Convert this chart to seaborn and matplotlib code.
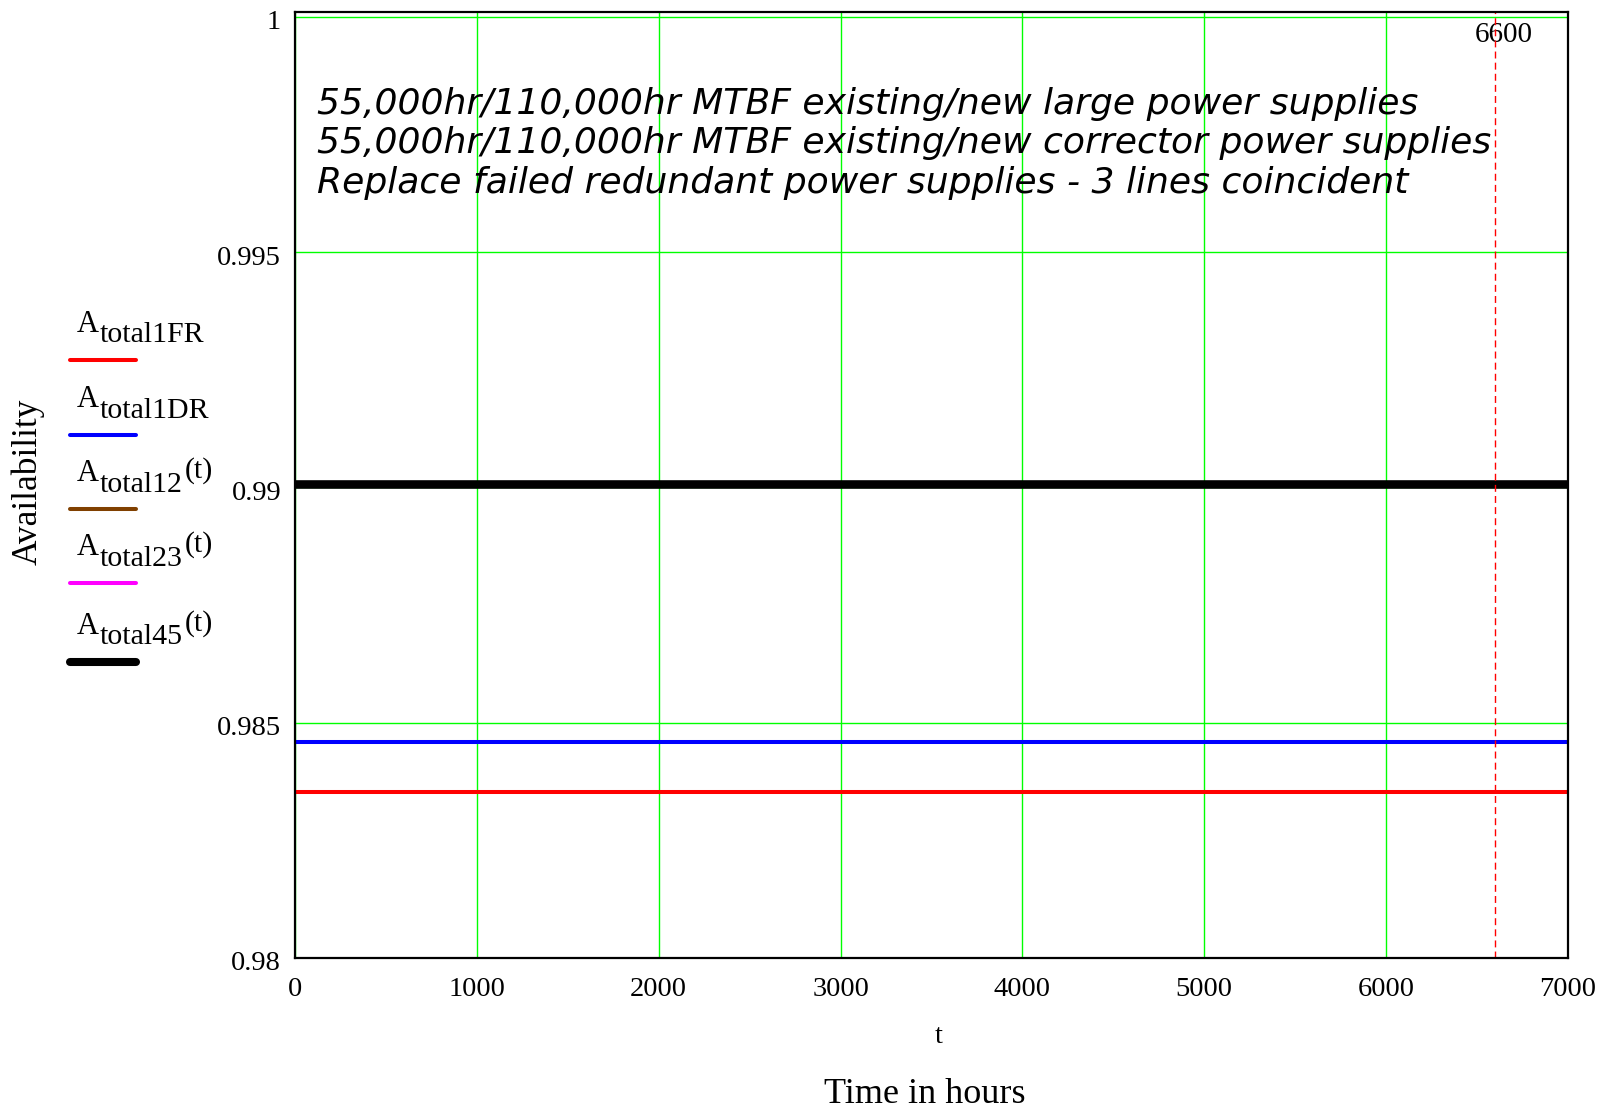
import matplotlib
matplotlib.use("Agg")
import matplotlib.pyplot as plt
import matplotlib.transforms as mtransforms
from matplotlib.lines import Line2D
import pandas as pd
import seaborn as sns

# ---------------- data ----------------
t_hours = [0, 7000]
A_total1FR = [0.98352, 0.98352]
A_total1DR = [0.98460, 0.98460]
A_total12 = [0.99008, 0.99008]
A_total23 = [0.99008, 0.99008]
A_total45 = [0.99008, 0.99008]

series_subs = ["total1FR", "total1DR", "total12", "total23", "total45"]
series_has_t = [False, False, True, True, True]
series_colors = ["#ff0000", "#0000ff", "#804000", "#ff00ff", "#000000"]

x_ticks = [0, 1000, 2000, 3000, 4000, 5000, 6000, 7000]
x_tick_labels = ["0", "1000", "2000", "3000", "4000", "5000", "6000", "7000"]
y_ticks = [0.98, 0.985, 0.99, 0.995, 1.0]
y_tick_labels = ["0.98", "0.985", "0.99", "0.995", "1"]
marker_t = 6600
marker_label = "6600"
notes = [
    "55,000hr/110,000hr MTBF existing/new large power supplies",
    "55,000hr/110,000hr MTBF existing/new corrector power supplies",
    "Replace failed redundant power supplies - 3 lines coincident",
]

# ---------------- style ----------------
sns.set_theme(style="white")
plt.rcParams["font.family"] = ["Liberation Serif", "DejaVu Serif"]
plt.rcParams["text.color"] = "black"
plt.rcParams["xtick.color"] = "black"
plt.rcParams["ytick.color"] = "black"

W, H = 1608, 1108
fig = plt.figure(figsize=(W / 100, H / 100), dpi=100)


def fx(px):
    return px / W


def fy(py):
    return 1 - py / H


ax = fig.add_axes([fx(295), fy(958), fx(1568) - fx(295), fy(12) - fy(958)])

series_vals = [A_total1FR, A_total1DR, A_total12, A_total23, A_total45]
series_lw = [2.9, 2.9, 2.9, 2.9, 6.2]
for vals, color, lw in zip(series_vals, series_colors, series_lw):
    df = pd.DataFrame({"t": t_hours, "A": vals})
    sns.lineplot(data=df, x="t", y="A", color=color, linewidth=lw, ax=ax,
                 legend=False, solid_capstyle="butt", zorder=3)

ax.axvline(marker_t, color="#ff0000", linewidth=1.0, linestyle=(0, (5, 3)), zorder=4)
ax.annotate(marker_label, xy=(marker_t, 1.0), xycoords="data",
            xytext=(8, -18), textcoords="offset pixels",
            ha="center", va="center", fontsize=21, color="black")

ax.set_xlim(0, 7000)
ax.set_ylim(0.98, 1.0001)
ax.set_xticks(x_ticks)
ax.set_xticklabels(x_tick_labels)
ax.set_yticks(y_ticks)
ax.set_yticklabels(y_tick_labels)
ax.grid(True, color="#00ff00", linewidth=1.0)
ax.set_axisbelow(True)
ax.tick_params(axis="both", length=0, labelsize=20.5, colors="black")
ax.tick_params(axis="x", pad=14)
ax.tick_params(axis="y", pad=10)
ax.set_xlabel("")
ax.set_ylabel("")
offset = mtransforms.ScaledTranslation(0, -3 / 100, fig.dpi_scale_trans)
for lab in ax.get_yticklabels():
    lab.set_transform(lab.get_transform() + offset)
for sp in ax.spines.values():
    sp.set_color("black")
    sp.set_linewidth(1.6)
    sp.set_zorder(5)

# annotation block
note_y = [103.6, 142.5, 182.5]
for txt, yc in zip(notes, note_y):
    ax.text((317 - 295) / 1273, (958 - yc) / 946, txt, transform=ax.transAxes,
            ha="left", va="center", fontsize=26, style="italic",
            family="DejaVu Sans", color="black")

# axis titles
fig.text(fx(939), fy(1043), "t", ha="center", va="baseline", fontsize=20.5)
fig.text(fx(925), fy(1103), "Time in hours", ha="center", va="baseline", fontsize=26)
fig.text(fx(28), fy(482), "Availability", ha="center", va="center",
         rotation=90, fontsize=25.5)

# legend (left, outside)
legend_line_y = [360, 435, 509, 583, 662]
legend_lw = [2.9, 2.9, 2.9, 2.9, 5.8]
for sub, has_t, color, ly, lw in zip(series_subs, series_has_t, series_colors,
                                     legend_line_y, legend_lw):
    fig.add_artist(Line2D([fx(70), fx(136)], [fy(ly), fy(ly)],
                          transform=fig.transFigure, color=color, linewidth=lw,
                          solid_capstyle="round"))
    fig.text(fx(77), fy(ly - 28), "A", ha="left", va="baseline", fontsize=22)
    st = fig.text(fx(100), fy(ly - 17.5), sub, ha="left", va="baseline", fontsize=21.5)
    if has_t:
        ax.annotate("(t)", xy=(1, 0), xycoords=st, xytext=(2, 13.5),
                    textcoords="offset pixels", ha="left", va="bottom",
                    fontsize=21.5, annotation_clip=False)

fig.savefig("out.png", dpi=100, facecolor="white")
